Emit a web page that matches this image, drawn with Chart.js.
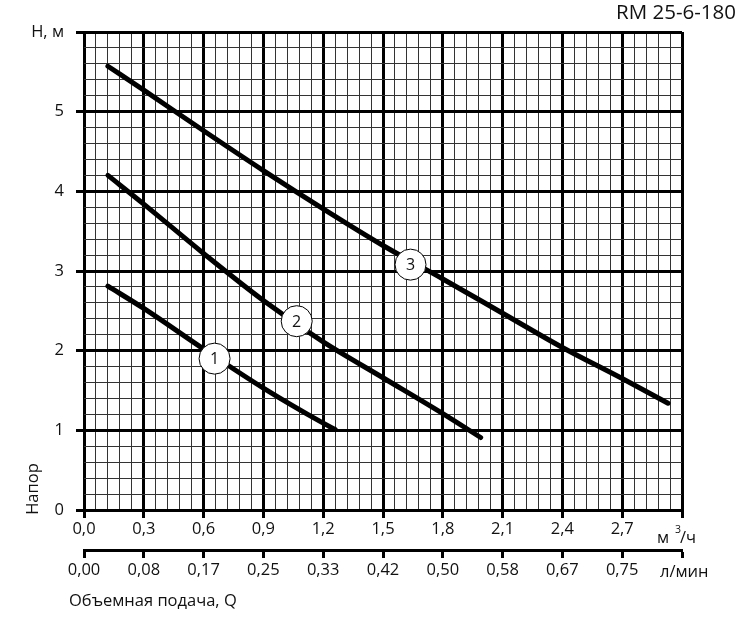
<!DOCTYPE html>
<html>
<head>
<meta charset="utf-8">
<script src="https://cdn.jsdelivr.net/npm/chart.js@4/dist/chart.umd.min.js"></script>
<style>
  html, body { margin: 0; padding: 0; background: #fff; }
  #wrap { width: 750px; height: 622px; }
</style>
</head>
<body>
<div id="wrap"><canvas id="pump"></canvas></div>
<script>
// кривые напора, Q в м3/ч, H в м
const qCurve1 = [0.12, 0.3, 0.6, 0.9, 1.2, 1.26];
const hCurve1 = [2.81, 2.53, 2.02, 1.53, 1.09, 1.01];
const qCurve2 = [0.12, 0.3, 0.6, 0.9, 1.2, 1.5, 1.8, 1.99];
const hCurve2 = [4.20, 3.84, 3.22, 2.63, 2.11, 1.66, 1.21, 0.91];
const qCurve3 = [0.12, 0.3, 0.6, 0.9, 1.2, 1.5, 1.8, 2.1, 2.4, 2.7, 2.93];
const hCurve3 = [5.57, 5.27, 4.76, 4.26, 3.78, 3.32, 2.90, 2.47, 2.04, 1.65, 1.34];

// номера кривых (кружки)
const curveNames = ['1', '2', '3'];
const markQ = [0.655, 1.067, 1.638];
const markH = [1.90, 2.37, 3.08];

// подписи осей
const qLabels = ['0,0', '0,3', '0,6', '0,9', '1,2', '1,5', '1,8', '2,1', '2,4', '2,7', ''];
const lminLabels = ['0,00', '0,08', '0,17', '0,25', '0,33', '0,42', '0,50', '0,58', '0,67', '0,75', ''];
const hLabels = ['0', '1', '2', '3', '4', '5', 'H, м'];

const FONT = '"Open Sans", "Noto Sans", sans-serif';

function pts(qs, hs) {
    return qs.map((q, i) => ({ x: q, y: hs[i] }));
}

function curve(qs, hs) {
    return {
        data: pts(qs, hs),
        borderColor: '#000',
        borderWidth: 5,
        borderCapStyle: 'round',
        pointRadius: 0,
        cubicInterpolationMode: 'monotone',
        fill: false
    };
}

const isMajor = (ctx) => ctx.index % 5 === 0;

const extraText = {
    id: 'extraText',
    afterDatasetsDraw(chart) {
        const c = chart.ctx;
        const xs = chart.scales.x, ys = chart.scales.y;
        c.save();
        // кружки с номерами
        for (let i = 0; i < curveNames.length; i++) {
            const px = xs.getPixelForValue(markQ[i]);
            const py = ys.getPixelForValue(markH[i]);
            c.beginPath();
            c.arc(px, py, 15.5, 0, Math.PI * 2);
            c.fillStyle = '#fff';
            c.fill();
            c.lineWidth = 1;
            c.strokeStyle = '#000';
            c.stroke();
            c.fillStyle = '#111';
            c.font = '16px ' + FONT;
            c.textAlign = 'center';
            c.textBaseline = 'middle';
            c.fillText(curveNames[i], px, py + 1);
        }
        c.restore();
    },
    afterDraw(chart) {
        const c = chart.ctx;
        c.save();
        c.fillStyle = '#111';
        c.textBaseline = 'middle';

        c.font = '20.5px ' + FONT;
        c.textAlign = 'right';
        c.fillText('RM 25-6-180', 736, 13);

        c.font = '16.5px ' + FONT;
        c.textAlign = 'left';
        c.fillText('Объемная подача, Q', 69, 601);
        c.fillText('л/мин', 660, 572);

        c.textBaseline = 'alphabetic';
        c.fillText('м', 657, 543);
        c.font = '10.5px ' + FONT;
        c.fillText('3', 675, 533);
        c.font = '16.5px ' + FONT;
        c.fillText('/ч', 680, 543);

        c.translate(33, 489);
        c.rotate(-Math.PI / 2);
        c.textAlign = 'center';
        c.textBaseline = 'middle';
        c.fillText('Напор', 0, 0);
        c.restore();
    }
};

const config = {
    type: 'line',
    data: {
        datasets: [curve(qCurve1, hCurve1), curve(qCurve2, hCurve2), curve(qCurve3, hCurve3)]
    },
    options: {
        responsive: true,
        maintainAspectRatio: false,
        animation: false,
        events: [],
        layout: { padding: { top: 32, left: 0, right: 68, bottom: 0 } },
        plugins: { legend: { display: false }, tooltip: { enabled: false } },
        scales: {
            x: {
                type: 'linear',
                position: 'bottom',
                min: 0, max: 3,
                afterFit(s) { s.height = 40; },
                border: { display: false },
                grid: {
                    color: (ctx) => isMajor(ctx) ? '#000' : '#333',
                    lineWidth: (ctx) => isMajor(ctx) ? 3 : 1,
                    tickLength: 8,
                    tickColor: (ctx) => isMajor(ctx) ? '#000' : 'rgba(0,0,0,0)',
                    tickWidth: 3
                },
                ticks: {
                    stepSize: 0.06,
                    autoSkip: false,
                    maxRotation: 0,
                    padding: 1,
                    color: '#111',
                    font: { family: FONT, size: 16.5 },
                    callback: (v, i) => i % 5 === 0 ? qLabels[i / 5] : ''
                }
            },
            x2: {
                type: 'linear',
                position: 'bottom',
                min: 0, max: 3,
                afterFit(s) { s.height = 72; },
                border: { display: true, color: '#000', width: 3 },
                grid: {
                    drawOnChartArea: false,
                    tickLength: 8,
                    tickColor: '#000',
                    tickWidth: 3
                },
                ticks: {
                    stepSize: 0.3,
                    autoSkip: false,
                    maxRotation: 0,
                    padding: 2,
                    color: '#111',
                    font: { family: FONT, size: 16.5 },
                    callback: (v, i) => lminLabels[i]
                }
            },
            y: {
                type: 'linear',
                min: 0, max: 6,
                afterFit(s) { s.width = 84; },
                border: { display: false },
                grid: {
                    color: (ctx) => isMajor(ctx) ? '#000' : '#333',
                    lineWidth: (ctx) => isMajor(ctx) ? 3 : 1,
                    tickLength: 8,
                    tickColor: (ctx) => isMajor(ctx) ? '#000' : 'rgba(0,0,0,0)',
                    tickWidth: 3
                },
                ticks: {
                    stepSize: 0.2,
                    autoSkip: false,
                    padding: 12,
                    color: '#111',
                    font: { family: FONT, size: 16.5 },
                    callback: (v, i) => i % 5 === 0 ? hLabels[i / 5] : ''
                }
            }
        }
    },
    plugins: [extraText]
};

const pumpChart = new Chart(document.getElementById('pump'), config);
</script>
</body>
</html>
